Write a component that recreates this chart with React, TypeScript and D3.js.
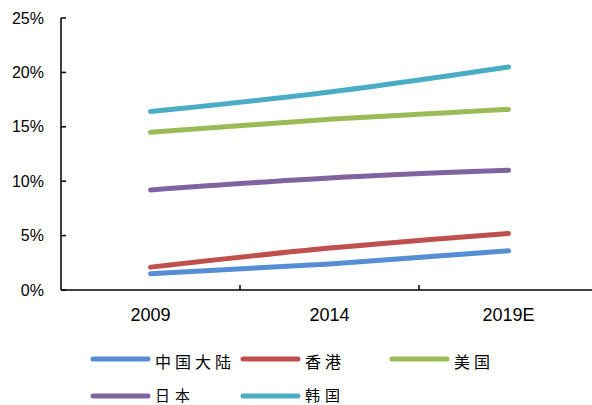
import React from "react";
import * as d3 from "d3";

const categories = ["2009", "2014", "2019E"];
const yTicks = [0, 5, 10, 15, 20, 25];
const seriesNames = ["中国大陆", "香港", "美国", "日本", "韩国"];
const seriesColors = ["#558ED5", "#C0504D", "#9BBB59", "#8064A2", "#4BACC6"];
const chinaMainland = [1.5, 2.4, 3.6];
const hongKong = [2.1, 3.85, 5.2];
const usa = [14.5, 15.7, 16.6];
const japan = [9.2, 10.3, 11.0];
const korea = [16.4, 18.2, 20.5];
const seriesValues = [chinaMainland, hongKong, usa, japan, korea];

const W = 592;
const H = 405;

export default function App() {
  const x = d3.scaleBand<string>().domain(categories).range([61, 598]);
  const y = d3.scaleLinear().domain([0, 25]).range([290, 18]);
  const line = d3
    .line<number>()
    .x((_, i) => (x(categories[i]) as number) + x.bandwidth() / 2)
    .y((d) => y(d))
    .curve(d3.curveMonotoneX);

  const boundaries = [x(categories[1]) as number, x(categories[2]) as number];

  const legend = [
    { i: 0, lx: 93, ty: 359, tt: 360.5 },
    { i: 1, lx: 243, ty: 359, tt: 360.5 },
    { i: 2, lx: 392, ty: 359, tt: 360.5 },
    { i: 3, lx: 93, ty: 396, tt: 394 },
    { i: 4, lx: 243, ty: 396, tt: 394 },
  ];

  return (
    <svg
      width={W}
      height={H}
      style={{ position: "absolute", left: 0, top: 0, background: "#fff" }}
    >
      {/* y axis */}
      <line x1={61} x2={61} y1={18} y2={290} stroke="#000" strokeWidth={1.5} />
      {yTicks.map((t) => (
        <g key={t}>
          <line x1={61} x2={66} y1={y(t)} y2={y(t)} stroke="#000" strokeWidth={1.5} />
          <text
            x={44}
            y={y(t)}
            textAnchor="end"
            dominantBaseline="central"
            fontFamily="Liberation Sans, Arial, sans-serif"
            fontSize={16}
            fill="#000"
          >
            {t}%
          </text>
        </g>
      ))}
      {/* x axis */}
      <line x1={61} x2={598} y1={290} y2={290} stroke="#000" strokeWidth={1.5} />
      {boundaries.map((b, i) => (
        <line key={i} x1={b} x2={b} y1={290} y2={285} stroke="#000" strokeWidth={1.5} />
      ))}
      {categories.map((c) => (
        <text
          key={c}
          x={(x(c) as number) + x.bandwidth() / 2}
          y={321}
          textAnchor="middle"
          fontFamily="Liberation Sans, Arial, sans-serif"
          fontSize={18}
          fill="#000"
        >
          {c}
        </text>
      ))}
      {/* series */}
      {seriesValues.map((vals, i) => (
        <path
          key={i}
          d={line(vals) as string}
          fill="none"
          stroke={seriesColors[i]}
          strokeWidth={5}
          strokeLinecap="round"
          strokeLinejoin="round"
        />
      ))}
      {/* legend */}
      {legend.map(({ i, lx, ty, tt }) => (
        <g key={i}>
          <line
            x1={lx}
            x2={lx + 55}
            y1={ty}
            y2={ty}
            stroke={seriesColors[i]}
            strokeWidth={5}
            strokeLinecap="round"
          />
          <text
            x={lx + 62}
            y={tt}
            dominantBaseline="central"
            fontFamily="Noto Sans CJK SC, sans-serif"
            fontSize={i >= 3 ? 15 : 16}
            letterSpacing={i >= 3 ? 5 : 4}
            fill="#000"
          >
            {seriesNames[i]}
          </text>
        </g>
      ))}
    </svg>
  );
}
